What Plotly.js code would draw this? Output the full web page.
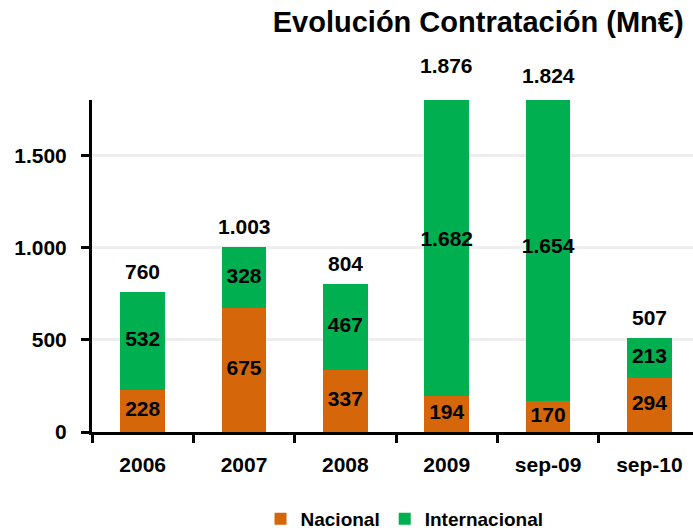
<!DOCTYPE html>
<html><head><meta charset="utf-8">
<script src="https://cdn.plot.ly/plotly-3.0.1.min.js"></script>
<style>body{margin:0;background:#fff}#c{width:693px;height:531px}</style>
</head><body><div id="c"></div>
<script>
const categories = ['2006','2007','2008','2009','sep-09','sep-10'];
const nacional = [228, 675, 337, 194, 170, 294];
const internacional = [532, 328, 467, 1682, 1654, 213];
const totals = [760, 1003, 804, 1876, 1824, 507];
const yTicks = [0, 500, 1000, 1500];

const F = 'Liberation Sans, Arial, sans-serif';
const txtFont = {family: F, size: 21, color: '#000', weight: 'bold'};

// label anchor values derived from the data
const nacMid = nacional.map(v => v / 2);
const intMid = internacional.map((v, i) => nacional[i] + v / 2);

const yMax = 1800;
const mainFrac = 332 / 422;

const traces = [
  {type:'bar', name:'Nacional', x:categories, y:nacional, marker:{color:'#D6660A'}, hoverinfo:'skip'},
  {type:'bar', name:'Internacional', x:categories, y:internacional, marker:{color:'#00B050'}, hoverinfo:'skip'},
  {type:'scatter', mode:'text', x:categories, y:nacMid, customdata:nacional, texttemplate:'%{customdata:,}',
   textposition:'middle center', textfont:txtFont, cliponaxis:false, showlegend:false, hoverinfo:'skip'},
  {type:'scatter', mode:'text', x:categories, y:intMid, customdata:internacional, texttemplate:'%{customdata:,}',
   textposition:'middle center', textfont:txtFont, cliponaxis:false, showlegend:false, hoverinfo:'skip'}
];

const fmt = v => String(v).replace(/\B(?=(\d{3})+(?!\d))/g, '.');
const annotations = totals.map((t, i) => ({
  x: i, y: t, xref:'x', yref:'y2', text: fmt(t), showarrow:false,
  xanchor:'center', yanchor:'bottom', yshift:7, font: txtFont
}));

const layout = {
  width:693, height:531,
  margin:{l:92, r:0, t:10, b:99, autoexpand:false},
  separators:',.',
  barmode:'stack', bargap:0.56,
  paper_bgcolor:'#fff', plot_bgcolor:'rgba(0,0,0,0)',
  font:{family:F, color:'#000'},
  title:{text:'Evolución Contratación (Mn€)', font:{family:F, size:29, weight:'bold', color:'#000'},
         x:0.69, xanchor:'center', y:0.9586, yanchor:'middle'},
  xaxis:{type:'category', range:[-0.5, 5.43], showline:true, linecolor:'#000', linewidth:3,
         ticks:'outside', tickson:'boundaries', ticklen:8, tickwidth:3, tickcolor:'#000', ticklabelstandoff:12,
         tickfont:{family:F, size:21, weight:'bold', color:'#000'}, showgrid:false, zeroline:false, automargin:false},
  yaxis:{domain:[0, mainFrac], range:[0, yMax], tickvals:yTicks, tickformat:',', showline:true, linecolor:'#000', linewidth:3,
         ticks:'outside', ticklen:8, tickwidth:3, tickcolor:'#000', ticklabelstandoff:10,
         tickfont:{family:F, size:21, weight:'bold', color:'#000'},
         showgrid:true, gridcolor:'#eeeeee', gridwidth:3, zeroline:false, automargin:false},
  yaxis2:{domain:[0, 1], range:[0, yMax / mainFrac], visible:false, anchor:'x', showgrid:false, zeroline:false},
  annotations: annotations,
  showlegend:true,
  legend:{orientation:'h', x:0.52, xanchor:'center', y:-0.206, yanchor:'middle',
          font:{family:F, size:19, weight:'bold', color:'#000'}, traceorder:'normal',
          itemwidth:30, tracegroupgap:0}
};
Plotly.newPlot('c', traces, layout, {displayModeBar:false, staticPlot:true});
</script></body></html>
